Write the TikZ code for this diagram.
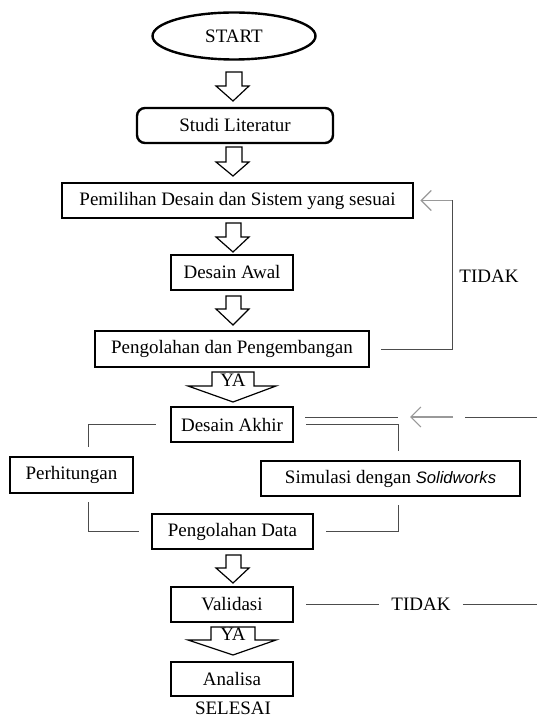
\documentclass[tikz,border=0pt]{standalone}
\usepackage{fontspec}
\setmainfont{Liberation Serif}
\newfontfamily\sansfam{Liberation Sans}
\usetikzlibrary{shapes.geometric,arrows.meta}
\begin{document}
\begin{tikzpicture}[x=0.5pt,y=-0.5pt,
 txt/.style={font=\fontsize{9.5}{11}\selectfont},
 box/.style={txt,draw,line width=1.45pt,rectangle,inner sep=0pt},
 conn/.style={draw=black!70,line width=0.5pt},
 barrow/.style={draw,line width=0.6pt,fill=white,line join=miter},
 back/.style={draw=black!40,line width=0.6pt,-{Straight Barb[length=5pt,width=10pt]}}]
\useasboundingbox[fill=white] (0,0) rectangle (537,716);

% nodes
\node[txt,draw,ellipse,line width=1.2pt,minimum width=81.5pt,minimum height=23.5pt,inner sep=0pt] (start) at (234,36) {START};
\node[box,rounded corners=4pt,line width=1.2pt,minimum width=98pt,minimum height=17.5pt] (studi) at (235,125.5) {Studi Literatur};
\node[box,minimum width=175.5pt,minimum height=17.5pt] (pem) at (237.5,200.5) {Pemilihan Desain dan Sistem yang sesuai};
\node[box,minimum width=61pt,minimum height=17.5pt] (awal) at (232,272.5) {Desain Awal};
\node[box,minimum width=137pt,minimum height=18pt] (peng) at (232,349) {Pengolahan dan Pengembangan};
\node[box,minimum width=61pt,minimum height=17.5pt] (akhir) at (232,424.5) {Desain Akhir};
\node[box,minimum width=61.5pt,minimum height=18pt] (perh) at (71.5,475) {Perhitungan};
\node[box,minimum width=129.5pt,minimum height=17.5pt] (sim) at (390.5,478.5) {Simulasi dengan {\sansfam\itshape\fontsize{8.3}{10}\selectfont Solidworks}};
\node[box,minimum width=80.5pt,minimum height=17.5pt] (pdata) at (232.5,531.5) {Pengolahan Data};
\node[box,minimum width=61pt,minimum height=17.5pt] (val) at (232,604.5) {Validasi};
\node[box,minimum width=61pt,minimum height=17pt] (ana) at (232,679) {Analisa};
\node[txt] (selesai) at (233,708) {SELESAI};
\node[txt] (tidak1) at (489,276) {TIDAK};
\node[txt,inner sep=6pt] (tidak2) at (421,604.5) {TIDAK};

% block arrows
\draw[barrow] (226,72) -- (242,72) -- (242,86) -- (249,86) -- (233,101) -- (216,86) -- (226,86) -- cycle;
\draw[barrow] (226,147) -- (242,147) -- (242,162) -- (249,162) -- (233,176) -- (216,162) -- (226,162) -- cycle;
\draw[barrow] (226,223) -- (241,223) -- (241,237) -- (249,237) -- (233,252) -- (216,237) -- (226,237) -- cycle;
\draw[barrow] (226,296) -- (241,296) -- (241,309) -- (249,309) -- (233,325) -- (216,309) -- (226,309) -- cycle;
\draw[barrow] (226,555) -- (241,555) -- (241,568) -- (249,568) -- (233,583) -- (216,568) -- (226,568) -- cycle;
\draw[barrow] (212,372) -- (254,372) -- (254,386) -- (276,386) -- (233,402) -- (188,386) -- (212,386) -- cycle;
\node[txt,inner sep=0pt] (ya1) at (233,380) {YA};
\draw[barrow] (211,627) -- (255,627) -- (255,640) -- (276,640) -- (233,655) -- (188,640) -- (211,640) -- cycle;
\node[txt,inner sep=0pt] (ya2) at (233,634) {YA};

% feedback from Pengolahan dan Pengembangan
\coordinate (f2) at (452,200.5);
\draw[conn] ([xshift=5.5pt]peng.east) -| (f2);
\draw[back] (f2) -- ([xshift=3pt]pem.east);

% Desain Akhir branches
\coordinate (l1) at (88,447);
\draw[conn] ([xshift=-7pt]akhir.west) -| (l1);
\coordinate (r1) at (398,451);
\draw[conn] ([xshift=6pt]akhir.east) -| (r1);
\coordinate (u1) at (305,417);
\coordinate (u2) at (398,417);
\draw[conn] (u1) -- (u2);
\coordinate (a1) at (453,417);
\coordinate (a2) at (410,417);
\draw[back] (a1) -- (a2);
\coordinate (e1) at (465,417);
\coordinate (e2) at (537,417);
\draw[conn] (e1) -- (e2);

% to Pengolahan Data
\coordinate (l2) at (88,502);
\coordinate (l3) at (139,531.5);
\draw[conn] (l2) |- (l3);
\coordinate (r2) at (398,505);
\coordinate (r3) at (326,531.5);
\draw[conn] (r2) |- (r3);

% Validasi TIDAK
\coordinate (v2) at (537,604.5);
\draw[conn] ([xshift=6pt]val.east) -- (tidak2.west);
\draw[conn] (tidak2.east) -- (v2);
\end{tikzpicture}
\end{document}
